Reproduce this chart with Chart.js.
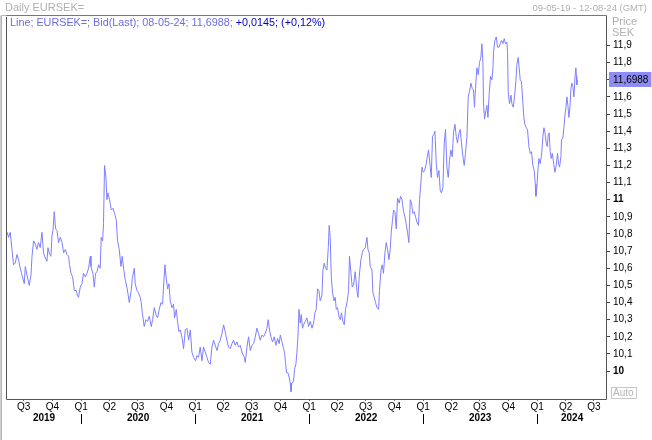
<!DOCTYPE html>
<html><head><meta charset="utf-8">
<script src="https://cdn.jsdelivr.net/npm/chart.js@4.4.1/dist/chart.umd.min.js"></script>
<style>html,body{margin:0;padding:0;background:#fff;}canvas{display:block;}</style>
</head><body>
<canvas id="c" width="652" height="440"></canvas>
<script>
// ---- data (decimal year, EUR/SEK close) ----
const dates = [
// 2019
2019.353,2019.364,2019.379,2019.394,2019.408,2019.423,2019.438,2019.452,2019.467,2019.482,2019.502,2019.511,
2019.526,2019.546,2019.561,2019.570,2019.584,2019.599,2019.613,2019.627,2019.642,2019.657,2019.671,2019.686,
2019.701,2019.710,2019.724,2019.736,2019.745,2019.754,2019.765,2019.777,2019.789,2019.803,2019.818,2019.833,
2019.847,2019.862,2019.876,2019.891,2019.899,2019.912,2019.926,2019.941,2019.958,2019.969,2019.978,2019.993,
// 2020
2020.008,2020.022,2020.037,2020.052,2020.066,2020.081,2020.087,2020.104,2020.116,2020.127,2020.140,2020.154,
2020.168,2020.177,2020.189,2020.197,2020.206,2020.218,2020.227,2020.236,2020.250,2020.265,2020.280,2020.294,
2020.309,2020.320,2020.335,2020.350,2020.361,2020.373,2020.388,2020.405,2020.423,2020.440,2020.449,2020.467,
2020.475,2020.490,2020.502,2020.519,2020.528,2020.537,2020.554,2020.569,2020.583,2020.598,2020.616,2020.627,
2020.642,2020.657,2020.671,2020.686,2020.701,2020.715,2020.723,2020.736,2020.747,2020.759,2020.771,2020.782,
2020.797,2020.811,2020.820,2020.835,2020.846,2020.858,2020.870,2020.887,2020.899,2020.914,2020.929,2020.943,
2020.958,2020.972,2020.987,
// 2021
2021.004,2021.016,2021.030,2021.045,2021.060,2021.074,2021.089,2021.104,2021.118,2021.133,2021.148,2021.162,
2021.177,2021.192,2021.206,2021.221,2021.236,2021.250,2021.264,2021.279,2021.293,2021.308,2021.323,2021.337,
2021.352,2021.367,2021.381,2021.396,2021.411,2021.431,2021.440,2021.455,2021.469,2021.484,2021.499,2021.513,
2021.528,2021.542,2021.556,2021.571,2021.586,2021.600,2021.615,2021.630,2021.641,2021.653,2021.665,2021.679,
2021.694,2021.709,2021.723,2021.738,2021.747,2021.762,2021.776,2021.784,2021.793,2021.802,2021.814,2021.826,
2021.834,2021.841,2021.849,2021.863,2021.872,2021.884,2021.893,2021.902,2021.911,2021.922,2021.931,2021.942,
2021.951,2021.966,2021.981,2021.995,
// 2022
2022.010,2022.025,2022.039,2022.051,2022.062,2022.074,2022.086,2022.097,2022.112,2022.121,2022.133,2022.144,
2022.156,2022.168,2022.176,2022.185,2022.194,2022.205,2022.218,2022.229,2022.238,2022.249,2022.261,2022.273,
2022.284,2022.296,2022.308,2022.319,2022.332,2022.346,2022.354,2022.367,2022.378,2022.389,2022.404,2022.419,
2022.428,2022.439,2022.454,2022.466,2022.477,2022.492,2022.507,2022.516,2022.527,2022.536,2022.551,2022.559,
2022.571,2022.582,2022.595,2022.609,2022.617,2022.630,2022.641,2022.652,2022.665,2022.676,2022.688,2022.700,
2022.711,2022.720,2022.731,2022.740,2022.752,2022.764,2022.775,2022.790,2022.802,2022.814,2022.828,2022.840,
2022.851,2022.863,2022.875,2022.887,2022.898,2022.910,2022.922,2022.933,2022.945,2022.959,2022.968,2022.977,
2022.989,
// 2023
2023.001,2023.012,2023.024,2023.036,2023.047,2023.062,2023.071,2023.082,2023.094,2023.103,2023.115,2023.126,
2023.138,2023.150,2023.161,2023.173,2023.185,2023.196,2023.208,2023.220,2023.231,2023.243,2023.255,2023.266,
2023.279,2023.290,2023.301,2023.314,2023.325,2023.336,2023.349,2023.360,2023.371,2023.384,2023.395,2023.406,
2023.419,2023.430,2023.441,2023.450,2023.459,2023.471,2023.483,2023.494,2023.506,2023.515,2023.524,2023.529,
2023.538,2023.550,2023.559,2023.568,2023.579,2023.591,2023.603,2023.612,2023.617,2023.629,2023.641,2023.652,
2023.664,2023.676,2023.687,2023.699,2023.711,2023.722,2023.734,2023.740,2023.746,2023.757,2023.770,2023.778,
2023.790,2023.801,2023.813,2023.822,2023.833,2023.842,2023.851,2023.862,2023.875,2023.883,2023.892,2023.904,
2023.915,2023.927,2023.939,2023.950,2023.962,2023.974,2023.983,2023.989,2023.997,
// 2024
2024.006,2024.015,2024.026,2024.038,2024.050,2024.059,2024.068,2024.079,2024.088,2024.097,2024.105,2024.114,
2024.123,2024.132,2024.143,2024.155,2024.167,2024.178,2024.187,2024.196,2024.208,2024.213,2024.225,2024.234,
2024.243,2024.252,2024.261,2024.269,2024.278,2024.287,2024.296,2024.304,2024.313,2024.322,2024.331,2024.339,
2024.344,2024.347,2024.350
];
const prices = [
// 2019
10.81,10.78,10.81,10.71,10.62,10.63,10.68,10.65,10.60,10.56,10.51,10.61,
10.56,10.50,10.56,10.67,10.76,10.74,10.71,10.75,10.72,10.81,10.69,10.66,
10.64,10.72,10.68,10.67,10.79,10.82,10.93,10.83,10.82,10.75,10.78,10.75,
10.69,10.71,10.68,10.67,10.62,10.57,10.55,10.47,10.47,10.44,10.43,10.49,
// 2020
10.51,10.57,10.55,10.57,10.60,10.67,10.61,10.57,10.49,10.57,10.58,10.62,
10.60,10.78,10.76,10.86,11.20,11.13,11.00,11.04,11.00,10.94,10.95,10.92,
10.88,10.76,10.71,10.61,10.67,10.60,10.53,10.48,10.40,10.47,10.54,10.60,
10.51,10.47,10.46,10.43,10.40,10.34,10.26,10.30,10.29,10.32,10.26,10.30,
10.37,10.33,10.31,10.36,10.40,10.39,10.49,10.62,10.54,10.48,10.51,10.41,
10.37,10.39,10.31,10.36,10.29,10.23,10.24,10.19,10.13,10.24,10.25,10.18,
10.24,10.11,10.08,
// 2021
10.06,10.09,10.08,10.14,10.06,10.14,10.11,10.08,10.05,10.04,10.14,10.18,
10.15,10.12,10.16,10.18,10.22,10.27,10.23,10.18,10.14,10.13,10.16,10.18,
10.15,10.17,10.14,10.15,10.11,10.08,10.05,10.14,10.20,10.12,10.15,10.16,
10.20,10.25,10.22,10.18,10.21,10.20,10.22,10.25,10.30,10.24,10.20,10.17,
10.20,10.15,10.19,10.16,10.21,10.17,10.13,10.11,10.05,9.99,9.99,9.96,
9.93,9.88,9.93,9.94,10.01,10.04,10.11,10.20,10.36,10.28,10.33,10.25,
10.27,10.29,10.31,10.26,
// 2022
10.29,10.25,10.28,10.34,10.36,10.48,10.47,10.41,10.44,10.59,10.63,10.60,
10.59,10.72,10.85,10.78,10.55,10.46,10.41,10.43,10.36,10.37,10.32,10.30,
10.34,10.29,10.27,10.36,10.40,10.47,10.67,10.57,10.49,10.50,10.58,10.47,
10.43,10.55,10.65,10.69,10.71,10.72,10.78,10.71,10.69,10.61,10.59,10.46,
10.43,10.40,10.37,10.36,10.47,10.59,10.62,10.57,10.69,10.75,10.71,10.65,
10.71,10.81,10.88,10.94,10.93,10.83,11.01,10.98,11.02,11.00,10.93,10.90,
10.86,10.81,10.75,11.00,10.98,10.92,10.93,10.90,10.87,10.85,11.00,11.07,
11.19,
// 2023
11.16,11.17,11.20,11.25,11.29,11.19,11.13,11.37,11.38,11.40,11.21,11.13,
11.17,11.05,11.04,11.07,11.33,11.41,11.19,11.13,11.23,11.29,11.25,11.39,
11.44,11.37,11.33,11.39,11.41,11.33,11.25,11.20,11.27,11.37,11.60,11.63,
11.68,11.65,11.64,11.54,11.65,11.77,11.73,11.80,11.83,11.91,11.80,11.56,
11.47,11.52,11.55,11.48,11.62,11.72,11.70,11.77,11.86,11.93,11.95,11.89,
11.89,11.91,11.93,11.91,11.94,11.91,11.92,11.86,11.63,11.56,11.61,11.56,
11.54,11.60,11.69,11.79,11.83,11.77,11.70,11.69,11.56,11.48,11.44,11.42,
11.41,11.31,11.27,11.28,11.20,11.17,11.09,11.02,11.07,
// 2024
11.17,11.24,11.21,11.26,11.37,11.42,11.39,11.33,11.31,11.38,11.39,11.28,
11.24,11.27,11.22,11.16,11.20,11.27,11.21,11.19,11.25,11.35,11.36,11.42,
11.49,11.54,11.60,11.55,11.48,11.54,11.65,11.68,11.66,11.60,11.71,11.77,
11.72,11.67,11.6988
];
const viewStart = '2019-05-09';
const viewEnd = '2024-08-12';
const quarterStarts = ['2019-07-01','2019-10-01','2020-01-01','2020-04-01','2020-07-01','2020-10-01',
  '2021-01-01','2021-04-01','2021-07-01','2021-10-01','2022-01-01','2022-04-01','2022-07-01','2022-10-01',
  '2023-01-01','2023-04-01','2023-07-01','2023-10-01','2024-01-01','2024-04-01','2024-07-01'];
const quarterLabels = ['Q3','Q4','Q1','Q2','Q3','Q4','Q1','Q2','Q3','Q4','Q1','Q2','Q3','Q4',
  'Q1','Q2','Q3','Q4','Q1','Q2','Q3'];
const yearLabels = ['2019','2020','2021','2022','2023','2024'];
const priceTicks = [10,10.1,10.2,10.3,10.4,10.5,10.6,10.7,10.8,10.9,11,11.1,11.2,11.3,11.4,11.5,11.6,11.8,11.9];
const lastPrice = 11.6988;
const lastDate = '08-05-24';
const change = '+0,0145';
const changePct = '(+0,12%)';

// ---- helpers ----
function toYear(s){
  const d = new Date(s + 'T00:00:00Z'); const y = d.getUTCFullYear();
  const a = Date.UTC(y,0,1), b = Date.UTC(y+1,0,1);
  return y + (d.getTime() - a) / (b - a);
}
const xMin = toYear(viewStart), xMax = toYear(viewEnd);
const qVals = quarterStarts.map(toYear);
const yearMids = yearLabels.map(l => {
  const y = +l; const a = Math.max(xMin, y), b = Math.min(xMax, y + 1);
  return (a + b) / 2;
});
const nQ = qVals.length;
const yTickVals = priceTicks.concat([lastPrice]).sort((a,b)=>a-b);
const FONT = '"Liberation Sans", Arial, sans-serif';
const fmt = v => Number.isInteger(v) ? String(v) : (v === lastPrice ? '11,6988' : v.toFixed(1).replace('.', ','));

const deco = {
  id: 'deco',
  beforeDraw(chart){
    const c = chart.ctx; c.save(); c.fillStyle = '#fff'; c.fillRect(0,0,chart.width,chart.height); c.restore();
  },
  afterDraw(chart){
    const c = chart.ctx, a = chart.chartArea, x = chart.scales.x;
    c.save();
    // outer frame
    c.strokeStyle = '#b4b4b4'; c.lineWidth = 1;
    c.beginPath(); c.moveTo(1.5, chart.height); c.lineTo(1.5, a.top - 0.5); c.lineTo(a.right - 0.5, a.top - 0.5); c.stroke();
    c.strokeStyle = '#d0d0d0';
    c.beginPath(); c.moveTo(0.5, chart.height); c.lineTo(0.5, a.top - 0.5); c.stroke();
    // plot border
    c.strokeStyle = '#555';
    c.beginPath();
    c.moveTo(a.left - 0.5, a.top + 1); c.lineTo(a.left - 0.5, a.bottom + 0.5);
    c.lineTo(a.right - 0.5, a.bottom + 0.5); c.lineTo(a.right - 0.5, a.top - 0.5);
    c.stroke();
    c.strokeStyle = '#777';
    c.beginPath(); c.moveTo(a.left - 0.5, a.top - 0.5); c.lineTo(a.right - 0.5, a.top - 0.5); c.stroke();
    // year separators
    c.strokeStyle = '#000';
    yearLabels.forEach(l => {
      const v = +l; if (v <= xMin || v >= xMax) return;
      const px = Math.round(x.getPixelForValue(v)) + 0.5;
      c.beginPath(); c.moveTo(px, a.bottom + 15); c.lineTo(px, a.bottom + 25); c.stroke();
    });
    // texts
    c.textBaseline = 'middle';
    c.font = '11px ' + FONT;
    c.fillStyle = '#b0b0b0';
    c.textAlign = 'left';
    c.fillText('Daily EURSEK=', 5, 8);
    c.font = '9.5px ' + FONT;
    c.textAlign = 'right';
    c.fillText('09-05-19 - 12-08-24 (GMT)', 647, 8);
    c.font = '11px ' + FONT;
    c.textAlign = 'left';
    c.fillText('Price', 612, 22);
    c.fillText('SEK', 612, 33);
    // legend line
    const p1 = 'Line; EURSEK=; Bid(Last); ' + lastDate + '; ' + fmt(lastPrice) + '; ';
    c.font = '10.8px ' + FONT;
    c.fillStyle = '#6c6ce4';
    c.fillText(p1, a.left + 3, a.top + 7);
    const w = c.measureText(p1).width;
    c.fillStyle = '#0000c8';
    c.fillText(change + '; ' + changePct, a.left + 3 + w, a.top + 7);
    // Auto box
    c.strokeStyle = '#c8c8c8';
    c.strokeRect(a.right + 4.5, a.bottom - 11.5, 25, 11);
    c.fillStyle = '#b4b4b4';
    c.font = '10px ' + FONT;
    c.fillText('Auto', a.right + 6, a.bottom - 5.5);
    c.restore();
  }
};

new Chart(document.getElementById('c'), {
  type: 'line',
  data: {
    datasets: [{
      data: dates.map((d, i) => ({x: d, y: prices[i]})),
      borderColor: '#7f7fff',
      borderWidth: 1,
      pointRadius: 0,
      tension: 0,
      fill: false
    }]
  },
  options: {
    responsive: false,
    animation: false,
    devicePixelRatio: 1,
    layout: {padding: {left: 7, top: 16, right: 0, bottom: 0}},
    plugins: {legend: {display: false}, tooltip: {enabled: false}, title: {display: false}},
    scales: {
      x: {
        type: 'linear', position: 'bottom', min: xMin, max: xMax,
        afterBuildTicks: s => { s.ticks = qVals.map(v => ({value: v})).concat(yearMids.map(v => ({value: v}))); },
        afterFit: s => { s.height = 41; },
        border: {display: false},
        grid: {
          drawOnChartArea: false, drawTicks: true, tickLength: 2, lineWidth: 1,
          color: ctx => ctx.index < nQ ? '#666' : 'rgba(0,0,0,0)',
          tickColor: ctx => ctx.index < nQ ? '#666' : 'rgba(0,0,0,0)'
        },
        ticks: {
          autoSkip: false, maxRotation: 0, minRotation: 0, padding: 0, color: '#000',
          font: ctx => ({family: FONT, size: 10, weight: ctx.index >= nQ ? 'bold' : 'normal', lineHeight: 1.15}),
          callback: (v, i) => i < nQ ? quarterLabels[i] : ['', yearLabels[i - nQ]]
        }
      },
      y: {
        type: 'linear', position: 'right', min: 9.837, max: 12.072,
        afterBuildTicks: s => { s.ticks = yTickVals.map(v => ({value: v})); },
        afterFit: s => { s.width = 45; },
        border: {display: false},
        grid: {drawOnChartArea: false, drawTicks: true, tickLength: 3, color: '#444', tickColor: '#444'},
        ticks: {
          autoSkip: false, padding: 3, color: '#000',
          font: ctx => ({family: FONT, size: 10, weight: (ctx.tick && Number.isInteger(ctx.tick.value)) ? 'bold' : 'normal'}),
          callback: v => fmt(v),
          showLabelBackdrop: ctx => !!(ctx.tick && ctx.tick.value === lastPrice),
          backdropColor: '#8c8cf4',
          backdropPadding: {left: 4, right: 3, top: 2, bottom: 1}
        }
      }
    }
  },
  plugins: [deco]
});
</script>
</body></html>
